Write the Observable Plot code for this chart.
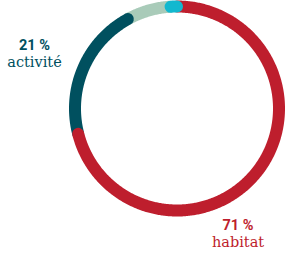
<!DOCTYPE html>
<html><head><meta charset="utf-8">
<script src="https://cdn.jsdelivr.net/npm/d3@7"></script>
<script src="https://cdn.jsdelivr.net/npm/@observablehq/plot@0.6"></script>
<style>body{margin:0;background:#fff}</style>
</head><body><div id="chart"></div>
<script>
// Data
const categories = ["habitat", "activité", "autre", "divers"];
const values = [71, 21, 7, 1];
const colors = ["#BE1E2D", "#00505F", "#A9CBB9", "#12B8CF"];
const labelCategories = ["habitat", "activité"];
const labelPercents = ["71 %", "21 %"];

// Layout (not data)
const drawOrder = ["autre", "activité", "habitat", "divers"];
const R = 102;
const labelPos = {habitat: {x: 61, y: 121}, "activité": {x: -142.5, y: -59}};
const GAP = 17.2;

const total = d3.sum(values);
let acc = 0;
const segs = categories.map((c, i) => {
  const s = acc / total * 2 * Math.PI; acc += values[i];
  return {c, s, e: acc / total * 2 * Math.PI};
});
function arcPts(cat) {
  const g = segs.find(d => d.c === cat);
  const n = Math.max(2, Math.ceil((g.e - g.s) / 0.01));
  return d3.range(n + 1).map(k => {
    const t = g.s + (g.e - g.s) * k / n;
    return {c: cat, x: R * Math.sin(t), y: -R * Math.cos(t)};
  });
}
const colorOf = c => colors[categories.indexOf(c)];

const marks = drawOrder.map(cat => Plot.line(arcPts(cat), {
  x: "x", y: "y", stroke: colorOf(cat), strokeWidth: 12, strokeLinecap: "round", curve: "linear"
}));
labelCategories.forEach((cat, i) => {
  const p = labelPos[cat];
  marks.push(Plot.text([cat], {x: () => p.x, y: () => p.y, text: () => labelPercents[i], fill: colorOf(cat),
    fontFamily: "Roboto", fontWeight: "bold", fontSize: 14.5, textAnchor: "middle", lineAnchor: "bottom"}));
  marks.push(Plot.text([cat], {x: () => p.x, y: () => p.y + GAP, text: d => d, fill: colorOf(cat),
    fontFamily: "DejaVu Serif", fontSize: 14.5, textAnchor: "middle", lineAnchor: "bottom"}));
});

const chart = Plot.plot({
  width: 303, height: 256, margin: 0,
  x: {domain: [-176.5, 126.5], range: [0, 303], axis: null},
  y: {domain: [-108, 148], range: [0, 256], axis: null},
  marks
});
document.getElementById("chart").append(chart);
</script>
</body></html>
